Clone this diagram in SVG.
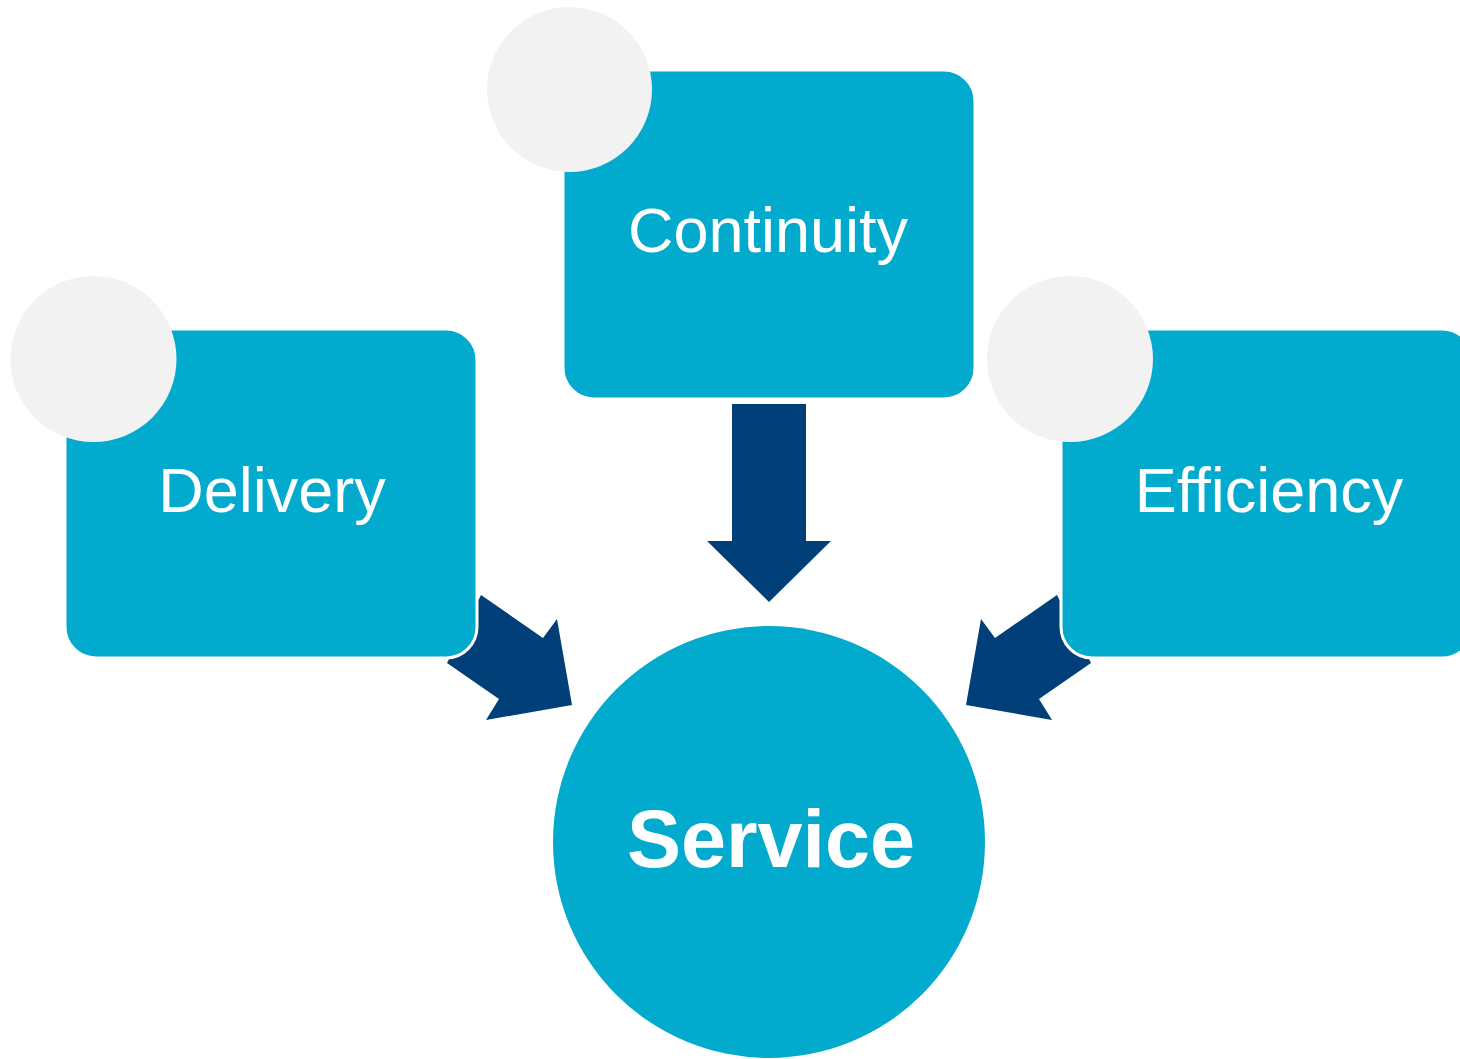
<svg xmlns="http://www.w3.org/2000/svg" width="1460" height="1059" viewBox="0 0 1460 1059">
<style>
.box{fill:#02ABCE;stroke:#FFFFFF;stroke-width:3}
.badge{fill:#F2F2F2}
.arrow{fill:#003F77}
.lbl{font-family:"Liberation Sans",Arial,sans-serif;fill:#FFFFFF;text-anchor:middle;font-size:63px}
.main{font-family:"Liberation Sans",Arial,sans-serif;fill:#FFFFFF;text-anchor:middle;font-size:81px;font-weight:bold}
</style>
<rect width="1460" height="1059" fill="#FFFFFF"/>
<g id="connectors">
<polygon class="arrow" points="732,404 806,404 806,541 831,541 769,602 707,541 732,541"/>
<polygon class="arrow" points="481,595 543,638 557,619 572,705 486,720 499,699 447,663"/>
<polygon class="arrow" points="1057,595 995,638 981,619 966,705 1052,720 1039,699 1091,663"/>
</g>
<g id="node-continuity">
<rect class="box" x="563" y="70" width="412" height="329" rx="31"/>
<circle class="badge" cx="569.5" cy="89.5" r="82.5"/>
<text class="lbl" x="768" y="252">Continuity</text>
</g>
<g id="node-delivery">
<rect class="box" x="65" y="329" width="412" height="329" rx="31"/>
<circle class="badge" cx="93.5" cy="359" r="83"/>
<text class="lbl" x="272" y="512">Delivery</text>
</g>
<g id="node-efficiency">
<rect class="box" x="1061" y="329" width="412" height="329" rx="31"/>
<circle class="badge" cx="1070" cy="359" r="83"/>
<text class="lbl" x="1269" y="512">Efficiency</text>
</g>
<g id="node-service">
<circle cx="769" cy="842" r="216" fill="#02ABCE"/>
<text class="main" x="771" y="867">Service</text>
</g>
</svg>
